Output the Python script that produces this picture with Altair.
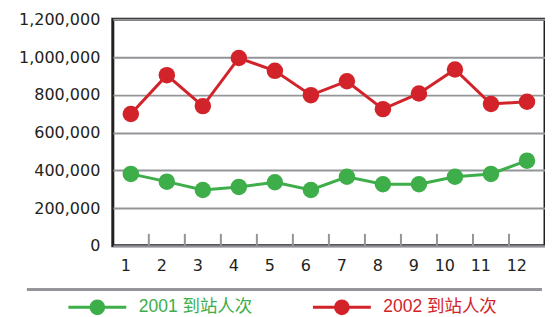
import altair as alt
import pandas as pd

months = [1, 2, 3, 4, 5, 6, 7, 8, 9, 10, 11, 12]
series_names = ["2001 到站人次", "2002 到站人次"]
v2001 = [381000, 340000, 296000, 312000, 337000, 296000, 366000, 326000, 326000, 366000, 381000, 451000]
v2002 = [698000, 904000, 740000, 995000, 927000, 798000, 872000, 724000, 807000, 934000, 751000, 763000]
y_ticks = [0, 200000, 400000, 600000, 800000, 1000000, 1200000]
colors = ["#3dae4a", "#d2232a"]

rows = []
for m, a, b in zip(months, v2001, v2002):
    rows.append({"month": m, "series": series_names[0], "value": a})
    rows.append({"month": m, "series": series_names[1], "value": b})
df = pd.DataFrame(rows)
tick_df = pd.DataFrame({"month": months[1:]})

W, H = 433, 227
GRID = "#939598"
DARK = "#231f20"

x_enc = alt.X("month:O", scale=alt.Scale(domain=months, paddingInner=0, paddingOuter=0),
              axis=alt.Axis(title=None, labelAngle=0, domain=False, ticks=False,
                            labelPadding=20, labelFontSize=16, labelFont="DejaVu Sans",
                            labelColor=DARK))
y_enc = alt.Y("value:Q", scale=alt.Scale(domain=[0, 1200000], nice=False),
              axis=alt.Axis(title=None, values=y_ticks, format=",.0f", domain=False, ticks=False,
                            grid=True, gridColor=GRID, gridWidth=2, labelPadding=13,
                            labelFontSize=16, labelFont="DejaVu Sans", labelColor=DARK))

scale_col = "scale('color', datum.value)"
legend = alt.Legend(
    title=None, orient="none", legendX=-46, legendY=258, direction="horizontal",
    symbolType="M-1,0H1M-0.22,0A0.22,0.22,0,1,0,0.22,0A0.22,0.22,0,1,0,-0.22,0Z",
    symbolSize=3364, symbolStrokeWidth=3, labelOffset=11, columnPadding=54,
    labelFontSize=17.5, labelFont="Liberation Sans, Noto Sans CJK SC", padding=0,
    symbolOpacity=1,
    symbolStrokeColor=alt.ExprRef(expr=scale_col),
    symbolFillColor=alt.ExprRef(expr=scale_col),
    labelColor=alt.ExprRef(expr=scale_col),
)
color_enc = alt.Color("series:N", scale=alt.Scale(domain=series_names, range=colors), legend=legend)

base = alt.Chart(df).encode(x=x_enc, y=y_enc, color=color_enc, detail="series:N")
lines = base.mark_line(strokeWidth=3)
points = base.mark_circle(size=272, opacity=1)

ticks = alt.Chart(tick_df).mark_rule(color=GRID, strokeWidth=2).encode(
    x=alt.X("month:O", bandPosition=0),
    y=alt.value(H - 12), y2=alt.value(H))

sep = alt.Chart(tick_df).mark_rule(color=GRID, strokeWidth=2).encode(
    x=alt.value(27 - 113), x2=alt.value(543 - 113), y=alt.value(271))

chart = alt.layer(ticks, lines, points, sep).properties(
    width=W, height=H,
    autosize=alt.AutoSizeParams(type="none"),
    padding={"left": 105, "top": 11, "right": 0, "bottom": 71},
).configure_view(stroke=DARK, strokeWidth=3)

chart.save("out.html", embed_options={"renderer": "svg", "actions": False})
